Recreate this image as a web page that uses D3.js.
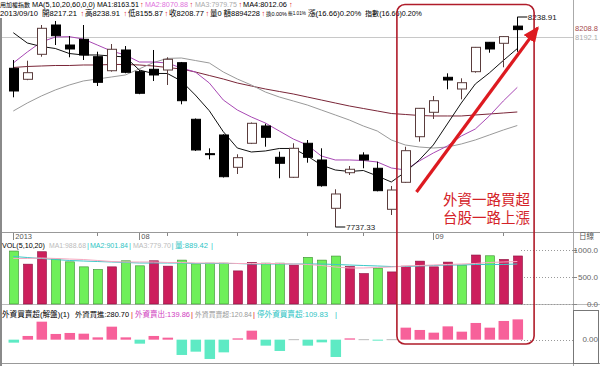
<!DOCTYPE html>
<html>
<head>
<meta charset="utf-8">
<title>加權指數</title>
<script src="https://cdn.jsdelivr.net/npm/d3@7/dist/d3.min.js"></script>
<style>
  body { margin: 0; background: #fff; }
  svg { display: block; }
  text { font-family: 'Liberation Sans', 'Noto Sans CJK TC', sans-serif; }
</style>
</head>
<body>
<div id="chart"></div>
<script>
// trading days on screen (2013, 8/21 closed for typhoon)
const dates = ['07/19', '07/22', '07/23', '07/24', '07/25', '07/26', '07/29', '07/30', '07/31',
  '08/01', '08/02', '08/05', '08/06', '08/07', '08/08', '08/09', '08/12', '08/13', '08/14', '08/15',
  '08/16', '08/19', '08/20', '08/22', '08/23', '08/26', '08/27', '08/28', '08/29', '08/30',
  '09/02', '09/03', '09/04', '09/05', '09/06', '09/09', '09/10'];

const openPx = [8116.4, 8090.1, 8149.8, 8219.8, 8172.0, 8185.6, 8144.1, 8110.6, 8160.1, 8108.3,
  8114.0, 8112.3, 8129.8, 7994.6, 7912.5, 7957.1, 7879.9, 7937.3, 7978.6, 7903.8,
  7856.1, 7937.3, 7897.4, 7782.0, 7867.0, 7909.3, 7877.6, 7779.6, 7844.1, 7953.0,
  8011.3, 8094.9, 8066.9, 8108.3, 8178.5, 8176.1, 8217.21];
const highPx = [8136.2, 8134.5, 8219.8, 8229.4, 8193.5, 8219.8, 8156.0, 8174.4, 8169.6, 8112.3,
  8160.1, 8142.7, 8131.5, 7996.5, 7925.3, 7959.0, 7911.0, 7987.0, 7984.0, 7917.2,
  7937.3, 7945.1, 7925.3, 7827.4, 7883.0, 7915.8, 7893.3, 7835.3, 7929.1, 8021.5,
  8050.2, 8104.4, 8092.5, 8167.3, 8179.2, 8193.0, 8238.91];
const lowPx = [8047.1, 8088.0, 8144.1, 8172.0, 8142.7, 8136.2, 8074.1, 8108.3, 8104.5, 8054.5,
  8086.0, 8076.5, 8030.4, 7919.0, 7899.0, 7855.5, 7863.9, 7935.5, 7929.1, 7853.7,
  7854.5, 7890.9, 7833.6, 7737.33, 7861.5, 7877.6, 7822.5, 7766.0, 7842.5, 7941.1,
  7995.3, 8066.2, 8042.3, 8105.9, 8153.6, 8118.8, 8155.87];
const closePx = [8062.2, 8105.9, 8211.9, 8194.2, 8162.5, 8148.1, 8082.9, 8161.8, 8106.8, 8056.7,
  8100.4, 8137.9, 8039.0, 7921.3, 7911.7, 7857.5, 7902.9, 7985.0, 7951.6, 7889.5,
  7925.3, 7903.8, 7836.0, 7816.2, 7875.2, 7897.4, 7824.1, 7825.7, 7919.6, 8020.8,
  8039.0, 8088.4, 8082.0, 8166.5, 8162.5, 8192.11, 8208.77];

// moving averages as drawn on the chart
const ma5 = [8201.4, 8176.8, 8168.5, 8163.7, 8151.7, 8148.2, 8148.2, 8145.8, 8143.4, 8112.3,
  8104.0, 8104.0, 8086.1, 8052.6, 8015.0, 7965.0, 7926.0, 7916.5, 7918.9, 7924.9,
  7924.9, 7906.9, 7885.4, 7873.5, 7869.9, 7872.3, 7859.2, 7844.8, 7868.7, 7897.4,
  7933.2, 7983.4, 8033.5, 8078.9, 8105.2, 8135.0, 8163.51];
const ma10 = [8129.1, 8155.3, 8179.2, 8191.1, 8191.9, 8186.4, 8172.0, 8157.7, 8148.2, 8131.4,
  8131.4, 8129.1, 8117.1, 8107.6, 8081.3, 8040.7, 8016.8, 8000.1, 7985.8, 7966.6,
  7947.5, 7933.2, 7906.9, 7897.4, 7897.4, 7896.2, 7892.6, 7878.3, 7873.5, 7895.0,
  7914.1, 7930.8, 7954.7, 7971.4, 8002.5, 8038.3, 8070.88];
const ma20 = [8014.4, 8033.5, 8050.2, 8064.6, 8076.5, 8086.1, 8090.8, 8095.6, 8100.4, 8115.0,
  8130.0, 8140.0, 8141.0, 8135.0, 8129.1, 8107.6, 8090.8, 8076.5, 8059.8, 8047.8,
  8038.3, 8028.7, 8016.8, 8004.9, 7992.9, 7978.6, 7966.6, 7945.2, 7933.2, 7928.4,
  7926.0, 7928.4, 7935.6, 7945.2, 7957.1, 7969.0, 7979.75];
const ma60 = [8118.3, 8120.7, 8121.9, 8123.1, 8123.1, 8124.3, 8124.3, 8125.5, 8125.5, 8124.3,
  8121.9, 8118.3, 8114.7, 8107.6, 8099.2, 8090.8, 8081.3, 8074.1, 8067.0, 8061.0,
  8055.0, 8047.8, 8040.7, 8033.5, 8026.4, 8020.4, 8014.4, 8008.4, 8006.1, 8003.7,
  8002.5, 8002.5, 8002.5, 8004.9, 8007.2, 8009.6, 8012.06];

const volume = [981, 738, 968, 832, 781, 688, 639, 688, 800, 707,
  800, 701, 813, 744, 757, 757, 613, 770, 757, 757,
  720, 864, 813, 888, 695, 564, 664, 594, 701, 794,
  688, 776, 720, 907, 893, 826, 889.42];
const volMaA = [843, 843, 852, 843, 833, 824, 806, 787, 778, 778,
  778, 769, 769, 759, 759, 759, 750, 750, 750, 750,
  741, 732, 713, 685, 667, 667, 676, 685, 704, 713,
  722, 732, 741, 750, 769, 778, 787];
const volMaB = [880, 861, 843, 824, 806, 796, 787, 778, 769, 759,
  759, 759, 759, 750, 750, 750, 750, 741, 741, 741,
  741, 741, 741, 732, 722, 713, 704, 694, 694, 704,
  713, 722, 722, 732, 732, 732, 741];

// 外資買賣超 (億)
const foreignNet = [-20.8, 25.7, 124.9, 39.6, 46.5, 41.6, 16.0, 90.2, 16.0, -27.8,
  25.7, 13.9, -106.2, -83.3, -133.9, -88.1, 9.0, 62.5, -41.6, -78.4,
  0, -41.6, -18.7, -120.1, 9.0, 0, -4.9, 0, 83.3, 67.3,
  48.6, 92.3, 55.5, 115.9, 83.3, 129.8, 140.84];

const weekTicks = ['07/29', '08/05', '08/12', '08/19', '08/26', '09/09'];
const periodTicks = ['07/19', '08/01', '09/02'];
const periodLabels = ['2013', '08', '09'];

const prevClose = 8192.11;
const volTicks = [1000, 500, 0];
const volTickLabels = ['1000.0', '500.0', '0.0'];

// header pieces: [text, x, max width, colour]
const headPrice1 = [['用加權指數', 0, 30, '#000'], ['MA(5,10,20,60,0,0)', 32, 63, '#000'],
  ['MA1:8163.51', 97, 42, '#000'], ['↑', 140, 4, '#d22'],
  ['MA2:8070.88', 145, 43, '#e070dc'], ['↑', 189.5, 4, '#d22'],
  ['MA3:7979.75', 195, 42, '#aaa'], ['↑', 238.5, 4, '#d22'],
  ['MA4:8012.06', 243, 44, '#000'], ['↑', 289, 4, '#d22']];
const headPrice2 = [['2013/09/10', 0, 40, '#000'], ['開8217.21', 42, 37, '#000'], ['↑', 80.5, 4, '#d22'],
  ['高8238.91', 85, 37, '#000'], ['↑', 123.5, 4, '#d22'], ['低8155.87', 128, 35, '#000'], ['↑', 164.5, 4, '#d22'],
  ['收8208.77', 169, 35, '#000'], ['↑', 205.5, 4, '#d22'], ['量0 額8894228', 210, 50, '#000'],
  ['↑', 261.5, 4, '#d22'], ['換0.00%', 266, 21, '#000'], ['振1.01%', 288, 18, '#000'],
  ['漲(16.66)0.20%', 308, 55, '#000'], ['指數(16.66)0.20%', 365, 57, '#000']];
const headVol = [['VOL(5,10,20)', 2, 43, '#000'], ['MA1:988.68', 49, 37, '#bbb'], ['|', 87, 2.5, '#3cc'],
  ['MA2:901.84', 90, 38, '#2cc4c4'], ['|', 129, 2.5, '#3cc'], ['MA3:779.70', 133, 38, '#bbb'],
  ['|', 171.5, 2.5, '#3cc'], ['量:889.42', 175, 35, '#2cc4c4'], ['|', 211, 2.5, '#3cc']];
const headNet = [['外資買賣超(解盤)(1)', 2, 71, '#000'], ['外資買進:280.70', 75, 54, '#000'], ['|', 131, 2.5, '#d22'],
  ['外資賣出:139.86', 135, 55, '#d040c0'], ['|', 191, 2.5, '#d22'], ['外資買賣超:120.84', 195, 57, '#999'],
  ['|', 253, 2.5, '#d22'], ['停外資買賣超:109.83', 257, 76, '#2cc4c4'], ['|', 335, 2.5, '#2cc4c4']];

class KChart {
  constructor(_config) {
    this.config = {
      parentElement: _config.parentElement,
      width: 600,
      height: 366,
      plotRight: 573,
      upStroke: '#5a3c3c',
      volUp: '#cc1f5c',
      volDown: '#6ff05a',
      netUp: '#f7619a',
      netDown: '#5eeac4',
      note: '#dd1a20',
    };
    this.initVis();
  }

  initVis() {
    const vis = this;
    const cfg = vis.config;
    vis.idx = d3.range(dates.length);

    vis.svg = d3.select(cfg.parentElement).append('svg')
      .attr('width', cfg.width)
      .attr('height', cfg.height);
    vis.svg.append('rect').attr('width', cfg.width).attr('height', cfg.height).attr('fill', '#fff');

    vis.xScale = d3.scaleBand().domain(vis.idx).range([6.3, 524.3])
      .paddingInner(0.32).paddingOuter(0.16);
    vis.xc = (i) => vis.xScale(i) + vis.xScale.bandwidth() / 2;
    vis.xAt = d3.scaleLinear().domain([0, dates.length - 1])
      .range([vis.xc(0), vis.xc(dates.length - 1)]);
    vis.xDate = (d) => vis.xc(dates.indexOf(d));

    vis.yPrice = d3.scaleLinear().domain([7737.33, 8238.91]).range([227, 17]);
    vis.yVol = d3.scaleLinear().domain([0, 1000]).range([304, 250]);
    vis.yNet = d3.scaleLinear().domain([-155, 150]).range([362, 318.05]);

    vis.renderFrame();
    vis.renderPrice();
    vis.renderVolume();
    vis.renderNet();
    vis.renderHeaders();
    vis.renderNote();
  }

  renderFrame() {
    const vis = this;
    const cfg = vis.config;
    const g = vis.svg.append('g');

    g.append('rect').attr('x', 0).attr('y', 18).attr('width', 2).attr('height', 348).attr('fill', '#8a8a8a');
    g.append('line').attr('x1', cfg.plotRight + 0.5).attr('x2', cfg.plotRight + 0.5)
      .attr('y1', 0).attr('y2', 366).attr('stroke', '#aaa');
    g.append('line').attr('x1', 2).attr('x2', 600).attr('y1', 232.5).attr('y2', 232.5).attr('stroke', '#999');
    g.append('line').attr('x1', 2).attr('x2', 600).attr('y1', 304.5).attr('y2', 304.5).attr('stroke', '#bbb');
    g.append('line').attr('x1', 2).attr('x2', 600).attr('y1', 363.5).attr('y2', 363.5).attr('stroke', '#999');
    g.append('rect').attr('x', cfg.plotRight + 0.5).attr('y', 310.5).attr('width', 25).attr('height', 53)
      .attr('fill', 'none').attr('stroke', '#777');

    // previous close reference
    g.append('line').attr('x1', 2).attr('x2', cfg.plotRight)
      .attr('y1', Math.round(vis.yPrice(prevClose)) + 0.5).attr('y2', Math.round(vis.yPrice(prevClose)) + 0.5)
      .attr('stroke', '#c8c8c8');

    // date axis
    g.selectAll('.wk').data(weekTicks).join('line')
      .attr('x1', (d) => Math.round(vis.xDate(d)) + 0.5).attr('x2', (d) => Math.round(vis.xDate(d)) + 0.5)
      .attr('y1', 233).attr('y2', 236).attr('stroke', '#888');
    g.selectAll('.pt').data(periodTicks).join('line')
      .attr('x1', (d) => Math.round(vis.xDate(d)) + 0.5).attr('x2', (d) => Math.round(vis.xDate(d)) + 0.5)
      .attr('y1', 233).attr('y2', 240).attr('stroke', '#888');
    g.selectAll('.pl').data(periodTicks).join('text')
      .attr('x', (d) => vis.xDate(d) + 2).attr('y', 236.5)
      .attr('dominant-baseline', 'central')
      .attr('font-size', 7.5).attr('fill', '#555')
      .text((d, i) => periodLabels[i]);
    g.append('text').attr('x', 579).attr('y', 236.5).attr('dominant-baseline', 'central')
      .attr('font-size', 7.5).attr('fill', '#555').text('日線');
  }

  renderPrice() {
    const vis = this;
    const cfg = vis.config;
    const g = vis.svg.append('g');
    const up = (i) => closePx[i] > openPx[i];

    const maLine = (arr) => d3.line().x((d, i) => vis.xc(i)).y((d) => vis.yPrice(d))(arr);
    [[ma60, '#7a2638'], [ma20, '#9a9a9a'], [ma10, '#a848b4'], [ma5, '#111']].forEach(([arr, c]) => {
      g.append('path').attr('d', maLine(arr)).attr('fill', 'none').attr('stroke', c).attr('stroke-width', 1);
    });

    g.selectAll('.wick').data(vis.idx).join('line')
      .attr('x1', (i) => Math.round(vis.xc(i)) + 0.5).attr('x2', (i) => Math.round(vis.xc(i)) + 0.5)
      .attr('y1', (i) => vis.yPrice(highPx[i])).attr('y2', (i) => vis.yPrice(lowPx[i]))
      .attr('stroke', (i) => (up(i) ? cfg.upStroke : '#000'));

    g.selectAll('.body').data(vis.idx).join('rect')
      .attr('x', (i) => Math.round(vis.xScale(i)) + 0.5)
      .attr('width', Math.round(vis.xScale.bandwidth()) - 1)
      .attr('y', (i) => vis.yPrice(Math.max(openPx[i], closePx[i])))
      .attr('height', (i) => Math.max(1, Math.abs(vis.yPrice(openPx[i]) - vis.yPrice(closePx[i]))))
      .attr('fill', (i) => (up(i) ? '#fff' : '#000'))
      .attr('stroke', (i) => (up(i) ? cfg.upStroke : '#000'))
      .attr('stroke-width', 1);

    // highest / lowest markers
    const hi = d3.maxIndex(highPx);
    const lo = d3.minIndex(lowPx);
    const yh = vis.yPrice(highPx[hi]);
    const yl = vis.yPrice(lowPx[lo]);
    g.append('line').attr('x1', vis.xc(hi)).attr('x2', vis.xc(hi) + 10).attr('y1', yh).attr('y2', yh).attr('stroke', '#000');
    g.append('text').attr('x', vis.xc(hi) + 10.5).attr('y', yh).attr('dominant-baseline', 'central')
      .attr('font-size', 8).attr('fill', '#111').text(highPx[hi].toFixed(2));
    g.append('line').attr('x1', vis.xc(lo)).attr('x2', vis.xc(lo) + 10).attr('y1', yl).attr('y2', yl).attr('stroke', '#000');
    g.append('text').attr('x', vis.xc(lo) + 11).attr('y', yl).attr('dominant-baseline', 'central')
      .attr('font-size', 8).attr('fill', '#222').text(lowPx[lo].toFixed(2));

    // right axis labels (last close above the previous close)
    const last = closePx[closePx.length - 1];
    g.append('text').attr('x', 598).attr('y', vis.yPrice(last) - 1).attr('text-anchor', 'end')
      .attr('dominant-baseline', 'central').attr('font-size', 7.5).attr('fill', '#a4484c').text(last.toFixed(1));
    g.append('text').attr('x', 598).attr('y', vis.yPrice(prevClose) + 0.5).attr('text-anchor', 'end')
      .attr('dominant-baseline', 'central').attr('font-size', 7.5).attr('fill', '#aaa').text(prevClose.toFixed(1));
  }

  renderVolume() {
    const vis = this;
    const cfg = vis.config;
    const g = vis.svg.append('g');
    const rising = (i) => (i === 0 ? closePx[i] > openPx[i] : closePx[i] > closePx[i - 1]);

    g.selectAll('.grid').data(volTicks).join('line')
      .attr('x1', 521).attr('x2', cfg.plotRight)
      .attr('y1', (d) => Math.round(vis.yVol(d)) + 0.5).attr('y2', (d) => Math.round(vis.yVol(d)) + 0.5)
      .attr('stroke', '#999').attr('stroke-dasharray', '1,2');
    g.selectAll('.tk').data(volTicks).join('line')
      .attr('x1', cfg.plotRight).attr('x2', cfg.plotRight + 4)
      .attr('y1', (d) => Math.round(vis.yVol(d)) + 0.5).attr('y2', (d) => Math.round(vis.yVol(d)) + 0.5)
      .attr('stroke', '#888');
    g.selectAll('.tl').data(volTicks).join('text')
      .attr('x', 598).attr('y', (d) => vis.yVol(d)).attr('text-anchor', 'end')
      .attr('dominant-baseline', 'central').attr('font-size', 8).attr('fill', '#666')
      .text((d, i) => volTickLabels[i]);

    g.selectAll('.vbar').data(vis.idx).join('rect')
      .attr('x', (i) => Math.round(vis.xScale(i)) + 0.5)
      .attr('width', Math.round(vis.xScale.bandwidth()) - 1)
      .attr('y', (i) => vis.yVol(volume[i]))
      .attr('height', (i) => vis.yVol(0) - vis.yVol(volume[i]))
      .attr('fill', (i) => (rising(i) ? cfg.volUp : cfg.volDown))
      .attr('stroke', (i) => (rising(i) ? '#8a1040' : '#3a8a30'))
      .attr('stroke-width', 0.6);

    const line = (arr) => d3.line().x((d, i) => vis.xc(i)).y((d) => vis.yVol(d))(arr);
    g.append('path').attr('d', line(volMaB)).attr('fill', 'none').attr('stroke', '#3cc8c8');
    g.append('path').attr('d', line(volMaA)).attr('fill', 'none').attr('stroke', '#f6a8c0');
  }

  renderNet() {
    const vis = this;
    const cfg = vis.config;
    const g = vis.svg.append('g');
    const y0 = vis.yNet(0);

    g.append('line').attr('x1', 521).attr('x2', cfg.plotRight)
      .attr('y1', Math.round(y0) + 0.5).attr('y2', Math.round(y0) + 0.5)
      .attr('stroke', '#999').attr('stroke-dasharray', '1,2');
    g.append('text').attr('x', 598).attr('y', y0).attr('text-anchor', 'end')
      .attr('dominant-baseline', 'central').attr('font-size', 8).attr('fill', '#666').text('0.00');

    g.selectAll('.nbar').data(vis.idx).join('rect')
      .attr('x', (i) => vis.xScale(i))
      .attr('width', vis.xScale.bandwidth() + 1)
      .attr('y', (i) => (foreignNet[i] === 0 ? y0 - 0.5 : vis.yNet(Math.max(0, foreignNet[i]))))
      .attr('height', (i) => Math.max(1, Math.abs(vis.yNet(foreignNet[i]) - y0)))
      .attr('fill', (i) => {
        if (foreignNet[i] > 0) return cfg.netUp;
        if (foreignNet[i] < 0) return cfg.netDown;
        return '#bbb';
      });
  }

  renderHeaders() {
    const vis = this;
    // shrink each piece until it fits its slot
    const row = (pieces, y) => {
      vis.svg.append('g').selectAll('text').data(pieces).join('text')
        .attr('x', (d) => d[1]).attr('y', y)
        .attr('dominant-baseline', 'central').attr('font-size', 7.6)
        .attr('fill', (d) => d[3])
        .text((d) => d[0])
        .each(function (d) {
          const w = this.getComputedTextLength();
          if (w > d[2]) d3.select(this).attr('font-size', (7.6 * d[2]) / w);
        });
    };
    row(headPrice1, 4.5);
    row(headPrice2, 13.5);
    row(headVol, 245.5);
    row(headNet, 314);
  }

  renderNote() {
    const vis = this;
    const cfg = vis.config;
    const g = vis.svg.append('g');

    g.append('rect').attr('x', vis.xAt(27.4)).attr('y', 4.5)
      .attr('width', vis.xAt(37.2) - vis.xAt(27.4)).attr('height', 339.5)
      .attr('rx', 8).attr('fill', 'none').attr('stroke', '#b01c2a').attr('stroke-width', 1.6);

    vis.svg.append('defs').append('marker').attr('id', 'head')
      .attr('markerUnits', 'userSpaceOnUse').attr('markerWidth', 16).attr('markerHeight', 14)
      .attr('refX', 14).attr('refY', 7).attr('orient', 'auto')
      .append('path').attr('d', 'M0,0 L16,7 L0,14 Z').attr('fill', cfg.note);

    g.append('line')
      .attr('x1', vis.xAt(28.8)).attr('y1', vis.yPrice(7821))
      .attr('x2', vis.xAt(37.45)).attr('y2', vis.yPrice(8213))
      .attr('stroke', cfg.note).attr('stroke-width', 3.2)
      .attr('marker-end', 'url(#head)');

    const lines = ['外資一路買超', '台股一路上漲'];
    g.selectAll('.note').data(lines).join('text')
      .attr('x', vis.xAt(30.7)).attr('y', (d, i) => vis.yPrice(7801) + i * 18)
      .attr('dominant-baseline', 'central')
      .attr('font-size', 14.5).attr('fill', '#d42228')
      .text((d) => d);
  }
}

new KChart({ parentElement: '#chart' });
</script>
</body>
</html>
